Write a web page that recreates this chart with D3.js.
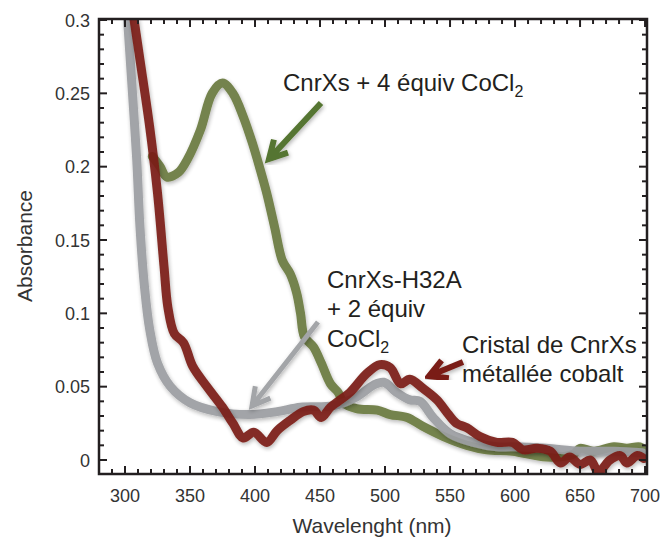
<!DOCTYPE html>
<html><head><meta charset="utf-8">
<script src="https://cdn.jsdelivr.net/npm/d3@7"></script>
<style>body{margin:0;background:#fff}svg{display:block}text{font-family:"Liberation Sans",Arial,sans-serif}</style>
</head><body><svg id="c" width="660" height="542"></svg>
<script>
// Wavelength (nm), absorbance
const green = [[321,0.207],[327,0.200],[332,0.193],[341,0.196],[348,0.205],[358,0.225],[367,0.250],[375,0.257],[383,0.250],[391,0.234],[398,0.216],[404,0.198],[409,0.182],[415,0.159],[421,0.136],[427,0.127],[432,0.114],[435,0.100],[438,0.084],[445,0.077],[451,0.066],[458,0.052],[464,0.046],[468,0.039],[478,0.035],[494,0.034],[504,0.031],[517,0.029],[529,0.023],[545,0.016],[563,0.010],[578,0.007],[598,0.006],[624,0.002],[645,0.004],[650,0.008],[660,0.006],[676,0.009],[686,0.008],[696,0.009],[701,0.006]];
const grey = [[302,0.300],[305,0.26],[309,0.205],[311.5,0.159],[315,0.118],[319,0.089],[325,0.066],[335,0.050],[350,0.039],[371,0.033],[396,0.031],[417,0.033],[435,0.036],[460,0.037],[478,0.043],[491,0.051],[499,0.053],[509,0.046],[519,0.041],[527,0.040],[537,0.029],[550,0.018],[568,0.012],[586,0.009],[598,0.009],[624,0.008],[650,0.006],[676,0.006],[698,0.005]];
const red = [[307,0.300],[311.5,0.273],[319,0.227],[325,0.182],[330,0.132],[333,0.104],[338,0.086],[345,0.080],[352,0.064],[363,0.050],[375,0.036],[383,0.025],[391,0.015],[399,0.019],[409,0.012],[417,0.020],[427,0.027],[437,0.033],[445,0.034],[451,0.029],[458,0.036],[464,0.040],[473,0.046],[486,0.059],[496,0.065],[504,0.063],[512,0.052],[519,0.055],[529,0.049],[540,0.041],[548,0.032],[555,0.025],[563,0.022],[573,0.016],[586,0.012],[598,0.012],[606,0.007],[617,0.008],[627,0.006],[635,-0.002],[642,0.002],[650,-0.003],[658,0.000],[664,-0.008],[673,0.000],[681,0.003],[686,-0.002],[694,0.003],[699,0.001]];
const xTicks = [300,350,400,450,500,550,600,650,700];
const yTicks = [0,0.05,0.1,0.15,0.2,0.25,0.3];
const yTickLabels = ["0","0.05","0.1","0.15","0.2","0.25","0.3"];

const svg = d3.select("#c");
const L=99,R=647,T=19,B=474;
const x = d3.scaleLinear().domain([280,701.5]).range([L,R]);
const y = d3.scaleLinear().domain([0,0.3]).range([460,20]);

const defs = svg.append("defs");
const f = defs.append("filter").attr("id","sh").attr("x","-10%").attr("y","-10%").attr("width","120%").attr("height","120%");
f.append("feDropShadow").attr("dx",1).attr("dy",2).attr("stdDeviation",2).attr("flood-color","#000").attr("flood-opacity",0.3);
defs.append("clipPath").attr("id","clip").append("rect").attr("x",L).attr("y",T).attr("width",R-L).attr("height",B-T);

const line = d3.line().x(d=>x(d[0])).y(d=>y(d[1])).curve(d3.curveCatmullRom.alpha(0.5));
const g = svg.append("g").attr("clip-path","url(#clip)");
[[green,"#6b7a40"],[grey,"#9c9ea2"],[red,"#7a1e15"]].forEach(([d,c])=>{
  g.append("path").datum(d).attr("d",line).attr("fill","none").attr("stroke",c)
   .attr("stroke-width",9).attr("stroke-linejoin","round").attr("stroke-linecap","round")
   .attr("opacity",0.93).attr("filter","url(#sh)");
});

// Frame & ticks
const ax = svg.append("g").attr("stroke","#231f20");
ax.append("rect").attr("x",L).attr("y",T).attr("width",R-L).attr("height",B-T).attr("fill","none").attr("stroke-width",2.5);
const xMinor = d3.range(290,701,10);
xMinor.forEach(v=>{
  const major = v%50===0, len = major?8:5;
  ax.append("line").attr("x1",x(v)).attr("x2",x(v)).attr("y1",B).attr("y2",B-len).attr("stroke-width",2);
  ax.append("line").attr("x1",x(v)).attr("x2",x(v)).attr("y1",T).attr("y2",T+len).attr("stroke-width",2);
});
const yMinor = d3.range(0,0.3001,0.01);
yMinor.forEach((v,i)=>{
  const major = i%5===0, len = major?8:5;
  ax.append("line").attr("x1",L).attr("x2",L+len).attr("y1",y(v)).attr("y2",y(v)).attr("stroke-width",2);
  ax.append("line").attr("x1",R).attr("x2",R-len).attr("y1",y(v)).attr("y2",y(v)).attr("stroke-width",2);
});
const tl = svg.append("g").attr("fill","#333").attr("font-size",18);
xTicks.forEach(v=>tl.append("text").attr("x",x(v)).attr("y",502).attr("text-anchor","middle").text(v));
yTicks.forEach((v,i)=>tl.append("text").attr("x",90).attr("y",y(v)+6.5).attr("text-anchor","end").text(yTickLabels[i]));

svg.append("text").attr("x",372).attr("y",533).attr("text-anchor","middle").attr("font-size",21).attr("fill","#333").text("Wavelenght (nm)");
svg.append("text").attr("transform","translate(32,246) rotate(-90)").attr("text-anchor","middle").attr("font-size",21).attr("fill","#333").text("Absorbance");

// Annotations
function arrow(x1,y1,x2,y2,color,w){
  const a = Math.atan2(y2-y1,x2-x1), h=20, s=0.5;
  const p = d3.path();
  p.moveTo(x1,y1); p.lineTo(x2,y2);
  p.moveTo(x2-h*Math.cos(a-s),y2-h*Math.sin(a-s)); p.lineTo(x2,y2); p.lineTo(x2-h*Math.cos(a+s),y2-h*Math.sin(a+s));
  svg.append("path").attr("d",p.toString()).attr("fill","none").attr("stroke",color).attr("stroke-width",w)
    .attr("stroke-linejoin","miter").attr("filter","url(#sh)");
}
arrow(321,103,269,159,"#557530",6);
arrow(318,322,252,406,"#a3a5a8",5);
arrow(463,362,429,376,"#7a1e15",6);

const ann = svg.append("g").attr("font-size",24).attr("fill","#231f20");
function sub(x0,y0,main){
  const te = ann.append("text").attr("x",x0).attr("y",y0);
  te.append("tspan").text(main);
  te.append("tspan").attr("font-size",16).attr("dy",6).text("2");
}
sub(283,91,"CnrXs + 4 équiv CoCl");
ann.append("text").attr("x",327).attr("y",288).text("CnrXs-H32A");
ann.append("text").attr("x",327).attr("y",317).text("+ 2 équiv");
sub(327,347,"CoCl");
ann.append("text").attr("x",462).attr("y",353).text("Cristal de CnrXs");
ann.append("text").attr("x",462).attr("y",382).text("métallée cobalt");
</script></body></html>
